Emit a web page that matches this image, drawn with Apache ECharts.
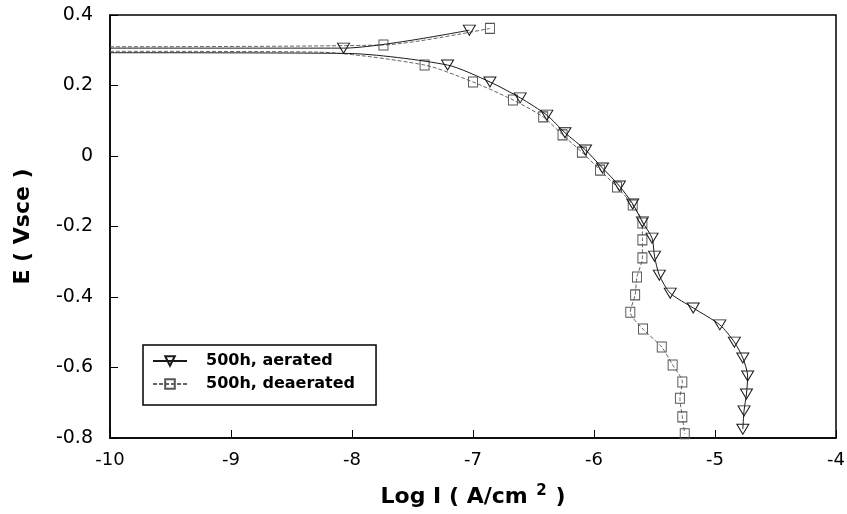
<!DOCTYPE html>
<html>
<head>
<meta charset="utf-8">
<script src="https://cdn.jsdelivr.net/npm/echarts@6/dist/echarts.min.js"></script>
<style>
  html, body { margin: 0; padding: 0; background: #fff; }
  #chart { width: 847px; height: 514px; }
</style>
</head>
<body>
<div id="chart"></div>
<script>
// Log I (A/cm2) , E (Vsce) pairs; "trace" points carry no marker
var aeratedAnodicTrace = [[-10, 0.306]];
var aeratedAnodicMarks = [[-8.07, 0.306], [-7.03, 0.357]];
var aeratedCathodicTrace = [[-10, 0.293], [-8.04, 0.291]];
var aeratedCathodicMarks = [
  [-7.21, 0.258], [-6.86, 0.210], [-6.61, 0.165], [-6.39, 0.116], [-6.24, 0.066],
  [-6.07, 0.017], [-5.93, -0.034], [-5.79, -0.085], [-5.68, -0.136], [-5.60, -0.187],
  [-5.52, -0.233], [-5.50, -0.284], [-5.46, -0.338], [-5.37, -0.389], [-5.18, -0.431],
  [-4.96, -0.479], [-4.84, -0.528], [-4.77, -0.573], [-4.73, -0.624], [-4.74, -0.675],
  [-4.76, -0.723], [-4.77, -0.775]
];
var deaeratedAnodicTrace = [[-10, 0.310]];
var deaeratedAnodicMarks = [[-7.74, 0.315], [-6.86, 0.362]];
var deaeratedCathodicTrace = [[-10, 0.297], [-8.3, 0.295]];
var deaeratedCathodicMarks = [
  [-7.40, 0.258], [-7.00, 0.210], [-6.67, 0.159], [-6.42, 0.111], [-6.26, 0.060],
  [-6.10, 0.011], [-5.95, -0.040], [-5.81, -0.088], [-5.68, -0.139], [-5.60, -0.190],
  [-5.60, -0.238], [-5.60, -0.289], [-5.645, -0.343], [-5.66, -0.394], [-5.70, -0.443],
  [-5.595, -0.491], [-5.44, -0.542], [-5.35, -0.593], [-5.27, -0.641], [-5.29, -0.687],
  [-5.27, -0.740], [-5.25, -0.788]
];
var seriesNames = ['500h, aerated', '500h, deaerated'];

function branch(trace, marks) {
  return trace.map(function (p) { return { value: p, symbol: 'none' }; })
    .concat(marks.map(function (p) { return { value: p }; }));
}

var FONT = 'DejaVu Sans, sans-serif';
var triDown = 'path://M0,0 L10,0 L5,9 Z';
var aeratedStyle = {
  type: 'line', name: seriesNames[0], symbol: triDown, symbolSize: [12, 10],
  smooth: 0.25, z: 3,
  lineStyle: { color: '#1a1a1a', width: 1 },
  itemStyle: { color: 'rgba(0,0,0,0)', borderColor: '#1a1a1a', borderWidth: 1 }
};
var deaeratedStyle = {
  type: 'line', name: seriesNames[1], symbol: 'rect', symbolSize: [9, 10],
  smooth: 0.25, z: 2,
  lineStyle: { color: '#666', width: 1, type: [4, 2] },
  itemStyle: { color: 'rgba(0,0,0,0)', borderColor: '#555', borderWidth: 1 }
};

var chart = echarts.init(document.getElementById('chart'), null, { renderer: 'canvas' });
var option = {
  animation: false,
  backgroundColor: '#fff',
  textStyle: { fontFamily: FONT },
  grid: {
    left: 110, right: 11, top: 15, bottom: 76,
    show: true, borderColor: '#000', borderWidth: 1.5,
    containLabel: false, outerBoundsMode: 'none'
  },
  legend: {
    orient: 'vertical', left: 143, top: 345,
    data: seriesNames,
    borderColor: '#000', borderWidth: 1.5, borderRadius: 0,
    padding: [7, 21, 12, 9],
    itemWidth: 34, itemHeight: 12, itemGap: 5,
    textStyle: { color: '#000', fontSize: 16, fontWeight: 'bold', lineHeight: 18,
      padding: [0, 0, 0, 14], fontFamily: FONT }
  },
  xAxis: {
    type: 'value', min: -10, max: -4, interval: 1,
    name: '{a|Log I ( A/cm }{s|2}{a| )}',
    nameLocation: 'middle', nameGap: 46,
    nameTextStyle: {
      rich: {
        a: { fontSize: 22, fontWeight: 'bold', color: '#000', fontFamily: FONT, verticalAlign: 'bottom' },
        s: { fontSize: 15, fontWeight: 'bold', color: '#000', fontFamily: FONT, verticalAlign: 'bottom', padding: [0, 1, 9, 1] }
      }
    },
    axisLine: { onZero: false, lineStyle: { color: '#000', width: 1.5 } },
    axisTick: { inside: true, length: 8, lineStyle: { color: '#000' } },
    axisLabel: { color: '#000', fontSize: 18, margin: 13, fontFamily: FONT },
    splitLine: { show: false }
  },
  yAxis: {
    type: 'value', min: -0.8, max: 0.4, interval: 0.2,
    name: 'E ( Vsce )', nameLocation: 'middle', nameGap: 76, nameRotate: 90,
    nameTextStyle: { fontSize: 22, fontWeight: 'bold', color: '#000', fontFamily: FONT },
    axisLine: { show: true, onZero: false, lineStyle: { color: '#000', width: 1.5 } },
    axisTick: { show: true, inside: true, length: 8, lineStyle: { color: '#000' } },
    axisLabel: { color: '#000', fontSize: 19, margin: 17, fontFamily: FONT },
    splitLine: { show: false }
  },
  series: [
    Object.assign({}, deaeratedStyle, { data: branch(deaeratedAnodicTrace, deaeratedAnodicMarks) }),
    Object.assign({}, deaeratedStyle, { data: branch(deaeratedCathodicTrace, deaeratedCathodicMarks) }),
    Object.assign({}, aeratedStyle, { data: branch(aeratedAnodicTrace, aeratedAnodicMarks) }),
    Object.assign({}, aeratedStyle, { data: branch(aeratedCathodicTrace, aeratedCathodicMarks) })
  ]
};
chart.setOption(option);
window.addEventListener('resize', chart.resize);
</script>
</body>
</html>
